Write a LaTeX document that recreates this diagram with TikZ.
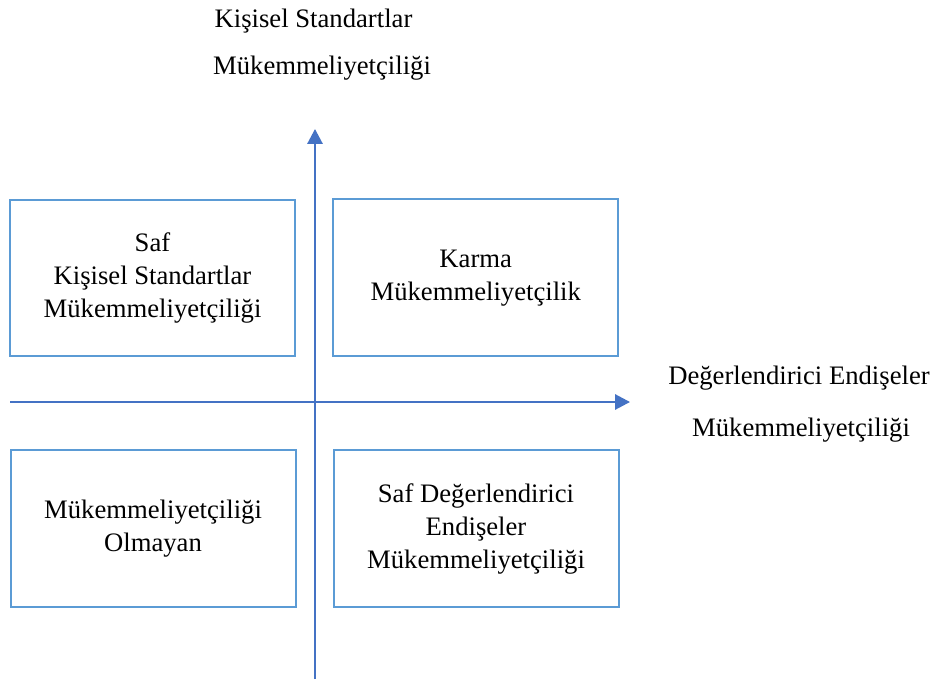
\documentclass[tikz,border=0pt]{standalone}
\usepackage{fontspec}
\setmainfont{Liberation Serif}
\usetikzlibrary{arrows.meta}
\definecolor{boxblue}{HTML}{5B9BD5}
\definecolor{axisblue}{HTML}{4472C4}

\begin{document}
\begin{tikzpicture}[x=0.75pt, y=-0.75pt,
  font=\fontsize{20}{24.75}\selectfont,
  quad/.style={draw=boxblue, line width=1.5pt, align=center, inner sep=2pt,
               minimum width=213.75pt, minimum height=117.5pt},
  lab/.style={anchor=base, inner sep=0pt},
  axis/.style={-{Triangle[length=11.25pt, width=11.5pt]}, line width=1.5pt, axisblue}]
\useasboundingbox (0,0) rectangle (936,681);

% axis end points
\coordinate (ybot) at (315, 679);
\coordinate (ytop) at (315, 129);
\coordinate (xleft) at (10, 402);
\coordinate (xright) at (630, 402);

% axes
\draw[axis] (ybot) -- (ytop);
\draw[axis] (xleft) -- (xright);

% four quadrants
\node[quad] (tl) at (152.5, 278) {Saf\\Kişisel Standartlar\\Mükemmeliyetçiliği};
\node[quad] (tr) at (475.75, 277.75) {Karma\\Mükemmeliyetçilik};
\node[quad] (bl) at (153, 528.5) {Mükemmeliyetçiliği\\Olmayan};
\node[quad] (br) at (476, 528.5) {Saf Değerlendirici\\Endişeler\\Mükemmeliyetçiliği};

% axis labels
\node[lab] (ylab1) at (313.5, 28) {Kişisel Standartlar};
\node[lab] (ylab2) at (322, 75) {Mükemmeliyetçiliği};
\node[lab] (xlab1) at (799, 384) {Değerlendirici Endişeler};
\node[lab] (xlab2) at (801, 436) {Mükemmeliyetçiliği};
\end{tikzpicture}
\end{document}
